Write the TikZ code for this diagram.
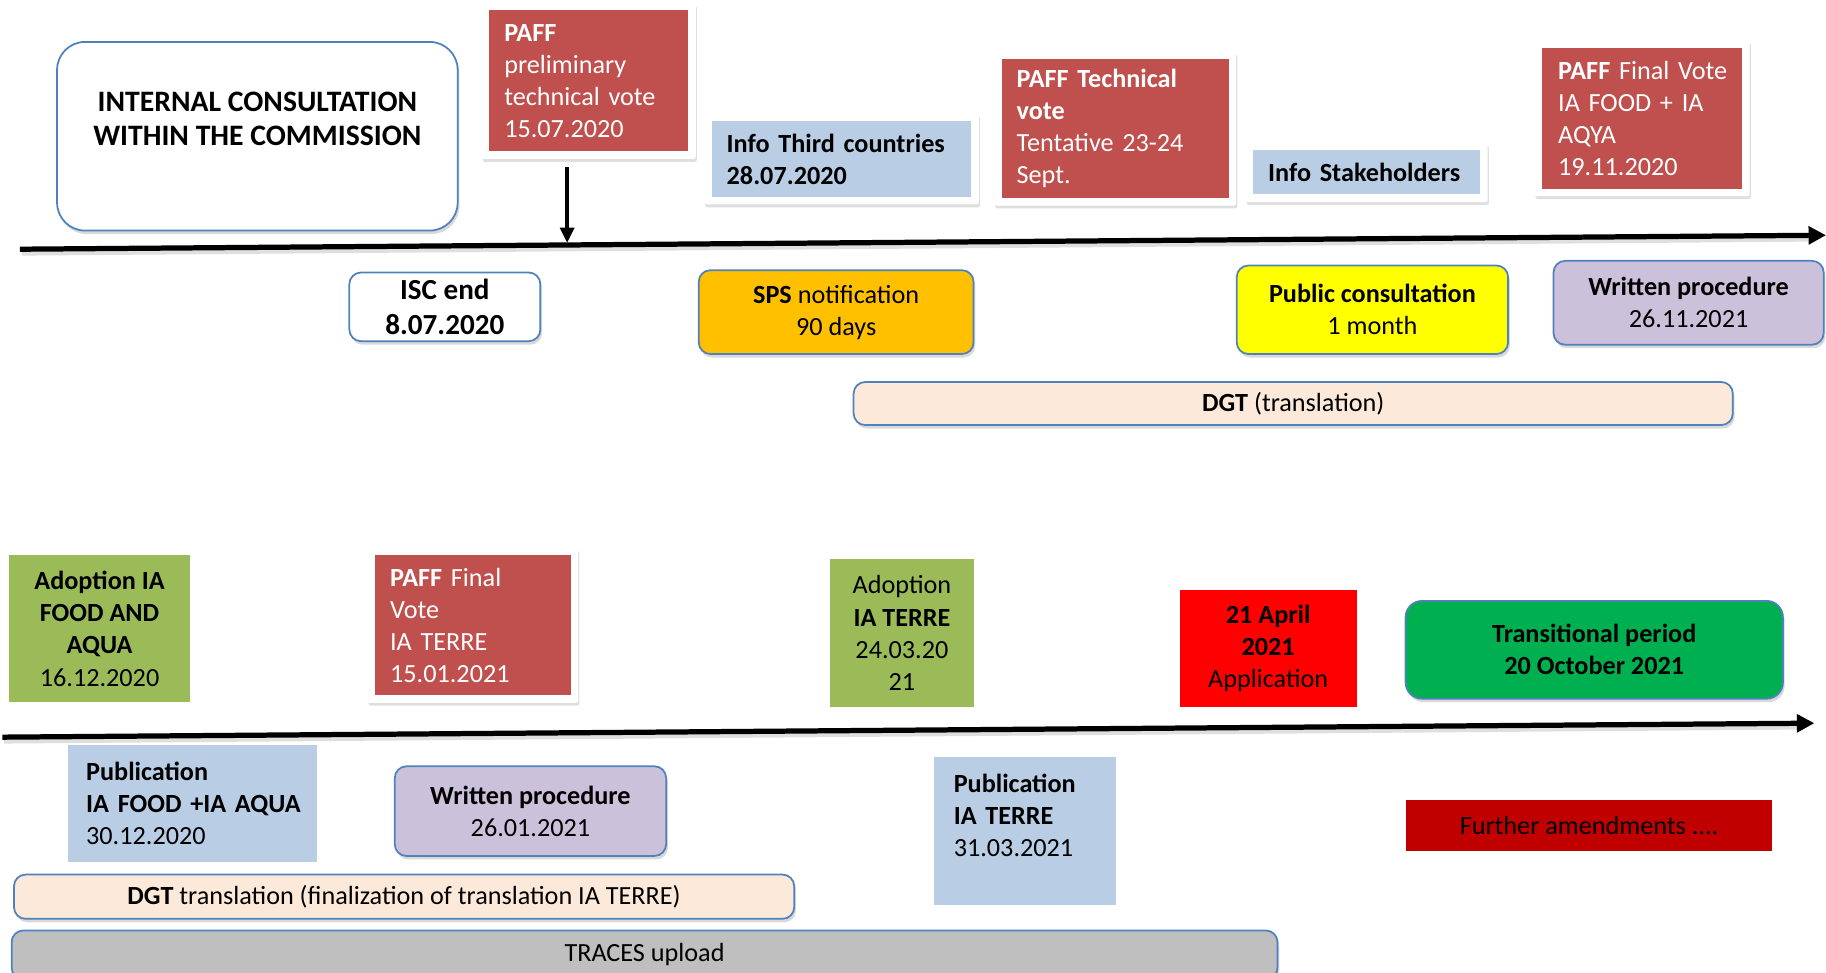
\documentclass[tikz,border=0pt]{standalone}
\usepackage{fontspec}
\setmainfont{Carlito}
\usetikzlibrary{shadows,fit,backgrounds,arrows.meta}
\definecolor{cRed}{HTML}{C0504D}
\definecolor{cBlue}{HTML}{B9CDE5}
\definecolor{cGreen}{HTML}{9BBB59}
\definecolor{cBright}{HTML}{FF0000}
\definecolor{cTrans}{HTML}{00B050}
\definecolor{cDark}{HTML}{C00000}
\definecolor{cOrange}{HTML}{FFC000}
\definecolor{cYellow}{HTML}{FFFF00}
\definecolor{cLav}{HTML}{CCC1DA}
\definecolor{cPeach}{HTML}{FDE9D9}
\definecolor{cGray}{HTML}{BFBFBF}
\definecolor{cBorder}{HTML}{4F81BD}
\begin{document}
\begin{tikzpicture}[x=1pt,y=-1pt,
  font=\fontsize{22.5}{27.5}\selectfont,
  base/.style={inner ysep=0pt, outer sep=0pt},
  lbox/.style n args={4}{base, align=left, minimum width=#1pt, minimum height=#2pt, inner xsep=#3pt, text width=#4pt},
  cbox/.style 2 args={base, inner xsep=0pt, align=center, minimum width=#1pt, minimum height=#2pt},
  rnd/.style={draw=cBorder, line width=1.5pt, rounded corners=10pt,
     drop shadow={shadow xshift=1.5pt, shadow yshift=-3pt, opacity=0.3}},
  frame/.style={fill=white, rounded corners=2pt, inner sep=6.5pt,
     drop shadow={shadow xshift=1pt, shadow yshift=-2.5pt, opacity=0.25}},
  tline/.style={line width=4.5pt, -{Triangle[length=15pt,width=15pt]}},
  tshadow/.style={line width=5pt, draw=gray, opacity=0.25},
]
\useasboundingbox (0,0) rectangle (1568,835);

% ---- top row ----
\node[cbox={344}{162}, rnd, fill=white, rounded corners=24pt,
  font=\fontsize{25.5}{30}\selectfont\bfseries] (intcons) at (221,117)
  {INTERNAL CONSULTATION\\WITHIN THE COMMISSION\\ \mbox{}};

\node[lbox={171}{121}{13}{145}, fill=cRed, text=white] (prelim) at (505.5,69.5)
  {\textbf{PAFF}\\preliminary\\\mbox{technical vote}\\15.07.2020};
\node[lbox={223}{65}{13}{197}, fill=cBlue] (third) at (722.5,136.5)
  {\mbox{\textbf{Info Third countries}}\\\textbf{28.07.2020}};
\node[lbox={195}{119}{13}{169}, fill=cRed, text=white] (tech) at (957.5,110.5)
  {\mbox{\textbf{PAFF Technical}}\\\textbf{vote}\\\mbox{Tentative 23-24}\\Sept.};
\node[lbox={195}{38}{13}{169}, fill=cBlue] (stake) at (1173.5,148)
  {\mbox{\textbf{Info Stakeholders}}};
\node[lbox={172}{121}{14}{144}, fill=cRed, text=white] (final) at (1410,101.5)
  {\mbox{\textbf{PAFF} Final Vote}\\\mbox{IA FOOD + IA}\\AQYA\\19.11.2020};

\node[cbox={164}{59}, rnd, fill=white, font=\fontsize{25}{30}\selectfont\bfseries] (isc) at (382,263.5)
  {ISC end\\8.07.2020};
\node[cbox={236}{72}, rnd, fill=cOrange] (sps) at (718,268)
  {\textbf{SPS} notification\\90 days};
\node[cbox={233}{76}, rnd, fill=cYellow] (pubcons) at (1178.5,266)
  {\textbf{Public consultation}\\1 month};
\node[cbox={232}{72}, rnd, fill=cLav] (written1) at (1450,260)
  {\textbf{Written procedure}\\26.11.2021};
\node[cbox={755}{37}, rnd, fill=cPeach] (dgt1) at (1110.5,346.5)
  {\textbf{DGT} (translation)};

% ---- bottom row ----
\node[cbox={155}{126}, fill=cGreen] (adopt1) at (85.5,540)
  {\textbf{Adoption IA}\\\textbf{FOOD AND}\\\textbf{AQUA}\\16.12.2020};
\node[lbox={168}{120}{13}{142}, fill=cRed, text=white] (paffterre) at (406,537)
  {\mbox{\textbf{PAFF} Final}\\Vote\\\mbox{IA TERRE}\\15.01.2021};
\node[cbox={123}{127}, fill=cGreen] (adopt2) at (774.5,543.5)
  {Adoption\\\textbf{IA TERRE}\\24.03.20\\21};
\node[cbox={152}{100}, fill=cBright] (april) at (1089,557)
  {\textbf{21 April}\\\textbf{2021}\\Application};
\node[cbox={324}{84}, rnd, fill=cTrans, rounded corners=14pt] (trans) at (1369,558)
  {\textbf{Transitional period}\\\textbf{20 October 2021}};

\node[lbox={214}{100}{16}{182}, fill=cBlue] (pub1) at (165,690)
  {\textbf{Publication}\\\mbox{\textbf{IA FOOD +IA AQUA}}\\30.12.2020};
\node[cbox={233}{77}, rnd, fill=cLav] (written2) at (455.5,696.5)
  {\textbf{Written procedure}\\26.01.2021};
\node[lbox={156}{127}{17}{122}, fill=cBlue] (pub2) at (880,713.5)
  {\textbf{Publication}\\\mbox{\textbf{IA TERRE}}\\31.03.2021\\ \mbox{}};
\node[cbox={315}{44}, fill=cDark] (further) at (1364.5,709)
  {Further amendments ....};
\node[cbox={670}{38}, rnd, fill=cPeach] (dgt2) at (347,770)
  {\textbf{DGT} translation (finalization of translation IA TERRE)};
\node[cbox={1087}{42}, rnd, fill=cGray] (traces) at (553.5,820)
  {TRACES upload};

% ---- frames ----
\begin{scope}[on background layer]
  \node[frame, fit=(prelim)] (prelimF) {};
  \node[frame, fit=(third)] (thirdF) {};
  \node[frame, fit=(tech)] (techF) {};
  \node[frame, fit=(stake)] (stakeF) {};
  \node[frame, fit=(final)] (finalF) {};
  \node[frame, fit=(paffterre)] (paffterreF) {};
\end{scope}

% ---- timelines ----
\coordinate (t1s) at (17,214);
\coordinate (t1e) at (1568,202);
\coordinate (t2s) at (2,633);
\coordinate (t2e) at (1558,621);
\coordinate (dn) at (487,208.5);
\draw[tshadow] ([shift={(1.5pt,-3pt)}]t1s) -- ([shift={(-15pt,-3pt)}]t1e);
\draw[tshadow] ([shift={(1.5pt,-3pt)}]t2s) -- ([shift={(-15pt,-3pt)}]t2e);
\draw[tline] (t1s) -- (t1e);
\draw[tline] (t2s) -- (t2e);
\draw[line width=3pt, -{Triangle[length=13pt,width=12pt]}]
  ([yshift=-7pt]prelimF.south -| dn) -- (dn);
\end{tikzpicture}
\end{document}
